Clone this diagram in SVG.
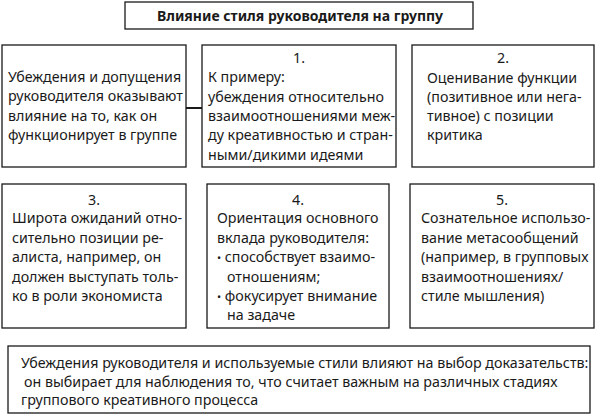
<svg xmlns="http://www.w3.org/2000/svg" width="596" height="417" viewBox="0 0 596 417">
<style>
.box{fill:#fff;stroke:#1a1a1a;stroke-width:1.3}
.t{font-family:"Noto Sans","Open Sans",sans-serif;font-size:14.25px;fill:#1a1a1a}
.c{text-anchor:middle}
.title{font-family:"Noto Sans","Open Sans",sans-serif;font-size:14px;font-weight:bold;fill:#1a1a1a;text-anchor:middle}
.ln{stroke:#1a1a1a;stroke-width:2;fill:none}
.b{font-size:11px}
</style>
<rect width="596" height="417" fill="#fff"/>
<g id="title"><rect class="box" x="125" y="2" width="348" height="27"/><text class="title" x="300" y="21">Влияние стиля руководителя на группу</text></g>
<g id="connectors"><line class="ln" x1="186" y1="108" x2="202" y2="108"/></g>
<g id="nodeA"><rect class="box" x="2" y="45" width="184" height="122"/>
<text class="t" x="8" y="82">Убеждения и допущения</text>
<text class="t" x="8" y="101">руководителя оказывают</text>
<text class="t" x="8" y="121">влияние на то, как он</text>
<text class="t" x="8" y="140">функционирует в группе</text></g>
<g id="node1"><rect class="box" x="202" y="45" width="194" height="122"/>
<text class="t c" x="299" y="63">1.</text>
<text class="t" x="208" y="82">К примеру:</text>
<text class="t" x="208" y="102">убеждения относительно</text>
<text class="t" x="208" y="121">взаимоотношениями меж-</text>
<text class="t" x="208" y="140">ду креативностью и стран-</text>
<text class="t" x="208" y="160">ными/дикими идеями</text></g>
<g id="node2"><rect class="box" x="412" y="45" width="182" height="122"/>
<text class="t c" x="503" y="63">2.</text>
<text class="t" x="427" y="83">Оценивание функции</text>
<text class="t" x="427" y="102">(позитивное или нега-</text>
<text class="t" x="427" y="121">тивное) с позиции</text>
<text class="t" x="427" y="140">критика</text></g>
<g id="node3"><rect class="box" x="2" y="184" width="184" height="144"/>
<text class="t c" x="94" y="205">3.</text>
<text class="t" x="12" y="223">Широта ожиданий отно-</text>
<text class="t" x="12" y="243">сительно позиции ре-</text>
<text class="t" x="12" y="262">алиста, например, он</text>
<text class="t" x="12" y="282">должен выступать толь-</text>
<text class="t" x="12" y="301">ко в роли экономиста</text></g>
<g id="node4"><rect class="box" x="207" y="184" width="182" height="144"/>
<text class="t c" x="298" y="205">4.</text>
<text class="t" x="217" y="223">Ориентация основного</text>
<text class="t" x="217" y="243">вклада руководителя:</text>
<text class="t" x="217" y="262"><tspan class="b">•</tspan> способствует взаимо-</text>
<text class="t" x="227" y="282">отношениям;</text>
<text class="t" x="217" y="301"><tspan class="b">•</tspan> фокусирует внимание</text>
<text class="t" x="227" y="320">на задаче</text></g>
<g id="node5"><rect class="box" x="410" y="184" width="184" height="144"/>
<text class="t c" x="502" y="205">5.</text>
<text class="t" x="421" y="223">Сознательное использо-</text>
<text class="t" x="421" y="243">вание метасообщений</text>
<text class="t" x="421" y="262">(например, в групповых</text>
<text class="t" x="421" y="282">взаимоотношениях/</text>
<text class="t" x="421" y="301">стиле мышления)</text></g>
<g id="nodeBottom"><rect class="box" x="8" y="346" width="582" height="67"/>
<text class="t" x="21" y="368">Убеждения руководителя и используемые стили влияют на выбор доказательств:</text>
<text class="t" x="24" y="387">он выбирает для наблюдения то, что считает важным на различных стадиях</text>
<text class="t" x="21" y="405">группового креативного процесса</text></g>
</svg>
